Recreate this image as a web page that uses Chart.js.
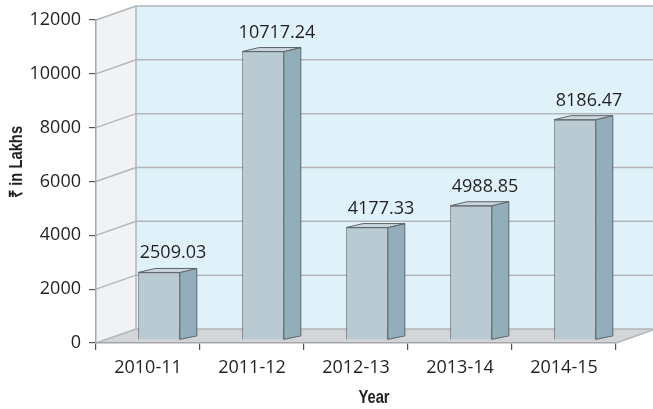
<!DOCTYPE html>
<html>
<head>
<meta charset="utf-8">
<script src="https://cdn.jsdelivr.net/npm/chart.js@4.4.1/dist/chart.umd.min.js"></script>
<style>
  html, body { margin: 0; padding: 0; background: #fff; }
  #wrap { width: 653px; height: 409px; }
</style>
</head>
<body>
<div id="wrap"><canvas id="chart" width="653" height="409"></canvas></div>
<script>
// data
const years = ['2010-11', '2011-12', '2012-13', '2013-14', '2014-15'];
const amounts = [2509.03, 10717.24, 4177.33, 4988.85, 8186.47];
const yTicks = [0, 2000, 4000, 6000, 8000, 10000, 12000];

const xTitle = 'Year';
const yTitle = '₹ in Lakhs';

// 3d look
const wallDx = 40, wallDy = -14;   // back wall offset
const barShift = [11, -3];         // bar front face sits a bit inside
const barDx = 17, barDy = -4;      // bar depth
const gridColor = '#b3b6b9';
const textColor = '#231f20';
const mainFont = '"Open Sans", "Noto Sans", sans-serif';

// narrow bold text, squeezed since no condensed face is around
function narrowText(ctx, text, x, y, rot) {
    ctx.save();
    ctx.translate(x, y);
    if (rot) ctx.rotate(rot);
    ctx.scale(0.82, 1);
    ctx.fillText(text, 0, 0);
    ctx.restore();
}

const box3d = {
    id: 'box3d',
    beforeDraw(chart) {
        const ctx = chart.ctx;
        const a = chart.chartArea;
        const y = chart.scales.y;
        const W = chart.width;
        ctx.save();
        // back wall
        ctx.fillStyle = '#e0f2f9';
        ctx.fillRect(a.left + wallDx, a.top + wallDy, W - a.left - wallDx, a.bottom - a.top);
        // left wall
        ctx.fillStyle = '#f1f2f4';
        ctx.beginPath();
        ctx.moveTo(a.left, a.top);
        ctx.lineTo(a.left + wallDx, a.top + wallDy);
        ctx.lineTo(a.left + wallDx, a.bottom + wallDy);
        ctx.lineTo(a.left, a.bottom);
        ctx.closePath();
        ctx.fill();
        // floor
        ctx.fillStyle = '#d4d5d7';
        ctx.beginPath();
        ctx.moveTo(a.left, a.bottom);
        ctx.lineTo(a.left + wallDx, a.bottom + wallDy);
        ctx.lineTo(a.right + wallDx, a.bottom + wallDy);
        ctx.lineTo(a.right, a.bottom);
        ctx.closePath();
        ctx.fill();

        ctx.strokeStyle = gridColor;
        ctx.lineWidth = 1.5;
        yTicks.forEach(v => {
            const py = y.getPixelForValue(v);
            ctx.beginPath();
            ctx.moveTo(a.left, py);
            ctx.lineTo(a.left + wallDx, py + wallDy);
            ctx.lineTo(W, py + wallDy);
            ctx.stroke();
        });
        // wall corner and floor edge
        ctx.beginPath();
        ctx.moveTo(a.left + wallDx, a.top + wallDy);
        ctx.lineTo(a.left + wallDx, a.bottom + wallDy);
        ctx.moveTo(a.right, a.bottom);
        ctx.lineTo(a.right + wallDx, a.bottom + wallDy);
        ctx.stroke();
        ctx.restore();
    },
    beforeDatasetsDraw(chart) {
        chart.ctx.save();
        chart.ctx.translate(barShift[0], barShift[1]);
    },
    afterDatasetsDraw(chart) {
        const ctx = chart.ctx;
        const meta = chart.getDatasetMeta(0);
        ctx.lineWidth = 1;
        ctx.strokeStyle = '#5f6468';
        meta.data.forEach(bar => {
            const l = bar.x - bar.width / 2, r = bar.x + bar.width / 2;
            const t = bar.y, b = bar.base;
            // side
            ctx.fillStyle = '#93aebb';
            ctx.beginPath();
            ctx.moveTo(r, t);
            ctx.lineTo(r + barDx, t + barDy);
            ctx.lineTo(r + barDx, b + barDy + 0.5);
            ctx.lineTo(r, b);
            ctx.closePath();
            ctx.fill();
            ctx.stroke();
            // top
            ctx.fillStyle = '#c9d5dc';
            ctx.beginPath();
            ctx.moveTo(l, t);
            ctx.lineTo(l + barDx, t + barDy);
            ctx.lineTo(r + barDx, t + barDy);
            ctx.lineTo(r, t);
            ctx.closePath();
            ctx.fill();
            ctx.stroke();
        });
        ctx.restore();

        // value labels
        ctx.save();
        ctx.fillStyle = textColor;
        ctx.font = '18px ' + mainFont;
        ctx.textAlign = 'center';
        ctx.textBaseline = 'alphabetic';
        meta.data.forEach((bar, i) => {
            ctx.fillText(amounts[i].toFixed(2), bar.x + 25, bar.y - 17);
        });
        ctx.restore();
    },
    afterDraw(chart) {
        const ctx = chart.ctx;
        ctx.save();
        ctx.fillStyle = textColor;
        ctx.font = 'bold 18px "Liberation Sans", Arial, sans-serif';
        ctx.textAlign = 'center';
        ctx.textBaseline = 'middle';
        narrowText(ctx, xTitle, 374, 398, 0);
        narrowText(ctx, yTitle, 17, 162, -Math.PI / 2);
        ctx.restore();
    }
};

const ctx = document.getElementById('chart').getContext('2d');
new Chart(ctx, {
    type: 'bar',
    data: {
        labels: years,
        datasets: [{
            data: amounts,
            backgroundColor: '#b9cad3',
            borderColor: '#5f6468',
            borderWidth: 1,
            barPercentage: 0.4,
            categoryPercentage: 1
        }]
    },
    options: {
        responsive: false,
        animation: false,
        layout: { padding: { top: 20, right: 37, left: 0, bottom: 0 } },
        plugins: { legend: { display: false }, tooltip: { enabled: false } },
        scales: {
            x: {
                grid: { display: true, drawOnChartArea: false, offset: true, tickLength: 7, color: '#555', lineWidth: 1.2 },
                border: { display: true, color: '#a3a6a9', width: 1.5 },
                ticks: { color: textColor, font: { family: mainFont, size: 18 }, padding: 7, maxRotation: 0 },
                afterFit(scale) { scale.height = 66; }
            },
            y: {
                min: 0,
                max: 12000,
                afterBuildTicks(scale) { scale.ticks = yTicks.map(v => ({ value: v })); },
                grid: { display: true, drawOnChartArea: false, tickLength: 7, color: '#555', lineWidth: 1.2 },
                border: { display: true, color: '#a3a6a9', width: 1.5 },
                ticks: { color: textColor, font: { family: mainFont, size: 18 }, padding: 8, callback: v => String(v) },
                afterFit(scale) { scale.width = 96; }
            }
        }
    },
    plugins: [box3d]
});
</script>
</body>
</html>
